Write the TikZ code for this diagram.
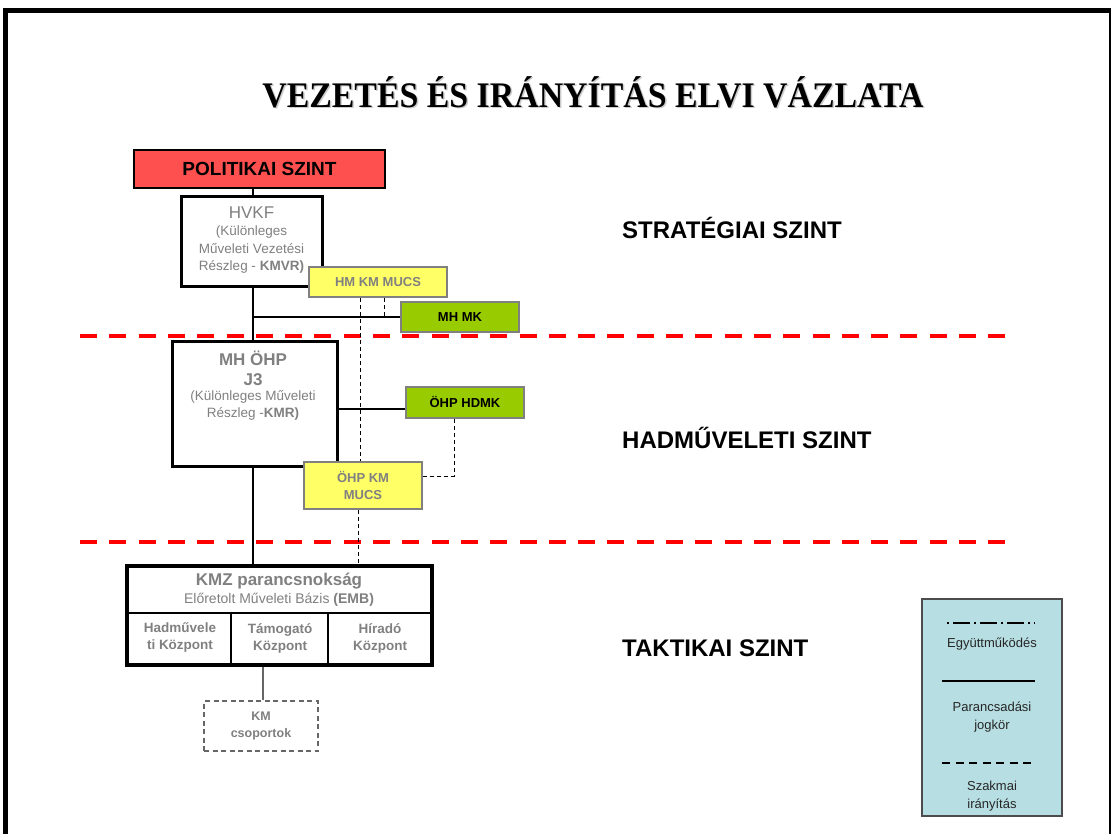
\documentclass[tikz,border=0pt]{standalone}
\usepackage{fontspec}
\setmainfont{Liberation Serif}
\newfontfamily\arial{Liberation Sans}
\newcommand\fsz[2]{\fontsize{#1}{#2}\selectfont}
\definecolor{polred}{RGB}{255,80,80}
\definecolor{yel}{RGB}{255,255,102}
\definecolor{grn}{RGB}{153,204,0}
\definecolor{gtext}{RGB}{128,128,128}
\definecolor{gbord}{RGB}{128,128,128}
\definecolor{legblue}{RGB}{183,222,226}
\begin{document}
\begin{tikzpicture}[x=1pt,y=-1pt,
  blk/.style={draw=black, line width=3pt, fill=white, inner sep=0pt},
  ylw/.style={draw=gbord, line width=2.5pt, fill=yel, inner sep=0pt, font=\arial\bfseries\fsz{13}{17}, text=gtext, align=center},
  grnb/.style={draw=gbord, line width=2.5pt, fill=grn, inner sep=0pt, font=\arial\bfseries\fsz{13}{16}, text=black},
  gtxt/.style={inner sep=0pt, text=gtext, align=center},
  lvl/.style={anchor=west, inner sep=0pt, font=\arial\bfseries\fsz{24}{28}},
  cmd/.style={line width=1.2pt, black},
  prof/.style={line width=1pt, black, dash pattern=on 4pt off 3pt},
  reddash/.style={red, line width=4pt, dash pattern=on 17pt off 12.3pt},
  legtxt/.style={inner sep=0pt, align=center, text=black!85, font=\arial\fsz{13}{18}}
]
\useasboundingbox (0,0) rectangle (1111,834);
\fill[white] (0,0) rectangle (1111,834);
% frame
\draw[line width=5pt] (5.5,834) -- (5.5,11) -- (1111,11);
\draw[line width=2.5pt] (1109.8,11) -- (1109.8,834);

% title
\node[inner sep=0pt, text=gray!40] (titlesh) at (594.5,93.5) {\bfseries\fsz{36}{40}\scalebox{0.94}[1]{VEZETÉS ÉS IRÁNYÍTÁS ELVI VÁZLATA}};
\node[inner sep=0pt] (title) at (593,92) {\bfseries\fsz{36}{40}\scalebox{0.94}[1]{VEZETÉS ÉS IRÁNYÍTÁS ELVI VÁZLATA}};

% level separators
\coordinate (r1a) at (80,336); \coordinate (r1b) at (1010,336);
\coordinate (r2a) at (80,542); \coordinate (r2b) at (1010,542);
\draw[reddash] (r1a) -- (r1b);
\draw[reddash] (r2a) -- (r2b);

% level labels
\node[lvl] (strat) at (622,228) {STRATÉGIAI SZINT};
\node[lvl] (hadm) at (622,438) {HADMŰVELETI SZINT};
\node[lvl] (takt) at (622,648) {TAKTIKAI SZINT};

% boxes
\node[draw=black, line width=2.5pt, fill=polred, minimum width=251pt, minimum height=38pt, inner sep=0pt, font=\arial\bfseries\fsz{19}{22}] (pol) at (259.5,169) {POLITIKAI SZINT};
\node[blk, minimum width=141pt, minimum height=90pt] (hvkf) at (251.5,242) {};
\node[gtxt, font=\arial\fsz{13.5}{17.3}] (hvkft) at (251.5,240) {{\fsz{17}{18}HVKF}\\(Különleges\\Műveleti Vezetési\\Részleg - \textbf{KMVR)}};
\node[ylw, minimum width=138pt, minimum height=30pt] (hmkm) at (378,282) {HM KM MUCS};
\node[grnb, minimum width=118pt, minimum height=30pt] (mhmk) at (460,317) {MH MK};

\node[blk, minimum width=165pt, minimum height=125pt] (ohp) at (254.5,403.5) {};
\node[gtxt, font=\arial\bfseries\fsz{17}{20}] (ohpt1) at (253,368) {MH ÖHP\\J3};
\node[gtxt, font=\arial\fsz{13.5}{17}] (ohpt2) at (253,405.5) {(Különleges Műveleti\\Részleg -\textbf{KMR)}};
\node[grnb, minimum width=118pt, minimum height=31pt] (hdmk) at (465,402.5) {ÖHP HDMK};
\node[ylw, minimum width=118pt, minimum height=47pt] (ohpmucs) at (363,485.5) {ÖHP KM\\MUCS};

\node[blk, line width=4pt, minimum width=305pt, minimum height=99pt] (kmz) at (279.5,615.5) {};
\coordinate (kmzdl) at (127,613); \coordinate (kmzdr) at (432,613);
\coordinate (kmzv1) at (231,613); \coordinate (kmzv2) at (328,613);
\draw[line width=1.2pt] (kmzdl) -- (kmzdr);
\draw[line width=1.2pt] (kmzv1) -- (kmzv1 |- kmz.south);
\draw[line width=1.2pt] (kmzv2) -- (kmzv2 |- kmz.south);
\node[gtxt, font=\arial\bfseries\fsz{17}{20}] (kmzt) at (279,581) {KMZ parancsnokság};
\node[gtxt, font=\arial\fsz{14}{17}] (emb) at (279,600) {Előretolt Műveleti Bázis \textbf{(EMB)}};
\node[gtxt, font=\arial\bfseries\fsz{13.5}{17}] (c1) at (180,638) {Hadművele\\ti Központ};
\node[gtxt, font=\arial\bfseries\fsz{13.5}{17}] (c2) at (280,638) {Támogató\\Központ};
\node[gtxt, font=\arial\bfseries\fsz{13.5}{17}] (c3) at (380,638) {Híradó\\Központ};

\node[draw=gray!80!black, line width=2pt, dash pattern=on 5pt off 3.5pt, fill=white, minimum width=114pt, minimum height=50pt, inner sep=0pt, text=gtext, align=center, font=\arial\bfseries\fsz{12.5}{17}] (kmcs) at (261,726) {KM\\csoportok};

% command lines
\coordinate (vx) at (253,0);
\draw[cmd] (pol.south -| vx) -- (hvkf.north -| vx);
\draw[cmd] (hvkf.south -| vx) -- (ohp.north -| vx);
\draw[cmd] (ohp.south -| vx) -- (kmz.north -| vx);
\draw[cmd] (vx |- mhmk.west) -- (mhmk.west);
\coordinate (hdin) at ([yshift=-6.5pt]hdmk.west);
\draw[cmd] (ohp.east |- hdin) -- (hdin);
\coordinate (kx) at (263,0);
\draw[line width=2pt, gray!80!black] (kmz.south -| kx) -- (kmcs.north -| kx);

% professional (dashed) lines
\coordinate (px1) at (360,0);
\coordinate (px2) at (358,0);
\coordinate (px3) at (384,0);
\coordinate (px4) at (454,0);
\coordinate (muin) at ([yshift=9.5pt]ohpmucs.east);
\draw[prof] (hmkm.south -| px1) -- (ohpmucs.north -| px1);
\draw[prof] (ohpmucs.south -| px2) -- (kmz.north -| px2);
\draw[prof] (hmkm.south -| px3) -- (mhmk.west -| px3);
\draw[prof] (hdmk.south -| px4) |- (muin);

% legend
\node[draw=gray!60!black, line width=1.5pt, fill=legblue, minimum width=140pt, minimum height=217pt, inner sep=0pt] (leg) at (992,707.5) {};
\coordinate (l1a) at (947,623); \coordinate (l1b) at (1035,623);
\coordinate (l2a) at (942,681); \coordinate (l2b) at (1035,681);
\coordinate (l3a) at (942,763); \coordinate (l3b) at (1035,763);
\draw[line width=2pt, dash pattern=on 2pt off 4pt on 17pt off 4pt] (l1a) -- (l1b);
\draw[line width=2.5pt] (l2a) -- (l2b);
\draw[line width=2.5pt, dash pattern=on 8pt off 5.5pt] (l3a) -- (l3b);
\node[legtxt] (lt1) at (992,644) {Együttműködés};
\node[legtxt] (lt2) at (992,717) {Parancsadási\\jogkör};
\node[legtxt] (lt3) at (992,796) {Szakmai\\irányítás};
\end{tikzpicture}
\end{document}
